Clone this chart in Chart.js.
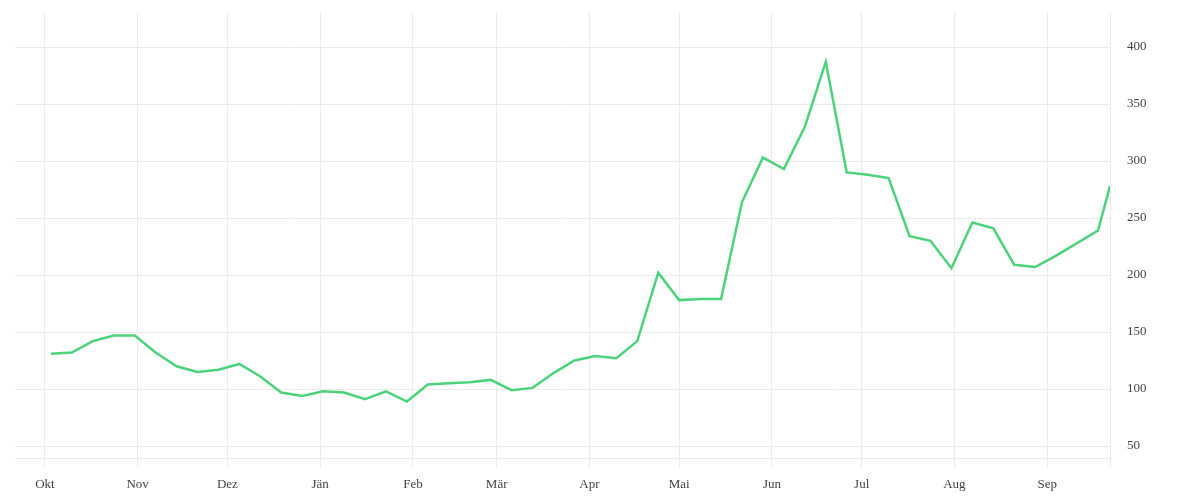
<!DOCTYPE html>
<html>
<head>
<meta charset="utf-8">
<script src="https://cdn.jsdelivr.net/npm/chart.js@4/dist/chart.umd.min.js"></script>
<style>
  html, body { margin: 0; padding: 0; background: #fff; }
  #wrap { width: 1200px; height: 500px; }
</style>
</head>
<body>
<div id="wrap"><canvas id="priceChart"></canvas></div>
<script>
const dates = [
  '2020-10-03', '2020-10-10', '2020-10-17', '2020-10-24', '2020-10-31',
  '2020-11-07', '2020-11-14', '2020-11-21', '2020-11-28',
  '2020-12-05', '2020-12-12', '2020-12-19', '2020-12-26',
  '2021-01-02', '2021-01-09', '2021-01-16', '2021-01-23', '2021-01-30',
  '2021-02-06', '2021-02-13', '2021-02-20', '2021-02-27',
  '2021-03-06', '2021-03-13', '2021-03-20', '2021-03-27',
  '2021-04-03', '2021-04-10', '2021-04-17', '2021-04-24',
  '2021-05-01', '2021-05-08', '2021-05-15', '2021-05-22', '2021-05-29',
  '2021-06-05', '2021-06-12', '2021-06-19', '2021-06-26',
  '2021-07-03', '2021-07-10', '2021-07-17', '2021-07-24', '2021-07-31',
  '2021-08-07', '2021-08-14', '2021-08-21', '2021-08-28',
  '2021-09-04', '2021-09-11', '2021-09-18', '2021-09-22'
];

const values = [
  131, 132, 142, 147, 147,
  132, 120, 115, 117,
  122, 111, 97, 94,
  98, 97, 91, 98, 89,
  104, 105, 106, 108,
  99, 101, 114, 125,
  129, 127, 142, 202,
  178, 179, 179, 264, 303,
  293, 330, 387, 290,
  288, 285, 234, 230, 206,
  246, 241, 209, 207,
  217, 228, 239, 278
];

const monthStarts = ['2020-10-01', '2020-11-01', '2020-12-01', '2021-01-01', '2021-02-01', '2021-03-01',
                     '2021-04-01', '2021-05-01', '2021-06-01', '2021-07-01', '2021-08-01', '2021-09-01'];
const monthLabels = ['Okt', 'Nov', 'Dez', 'Jän', 'Feb', 'Mär', 'Apr', 'Mai', 'Jun', 'Jul', 'Aug', 'Sep'];
const yTicks = [50, 100, 150, 200, 250, 300, 350, 400];

const origin = Date.UTC(2020, 9, 1);
function dayOf(s) {
    const p = s.split('-').map(Number);
    return (Date.UTC(p[0], p[1] - 1, p[2]) - origin) / 86400000;
}

const points = dates.map((d, i) => ({ x: dayOf(d), y: values[i] }));
const monthDays = monthStarts.map(dayOf);
const xMax = dayOf(dates[dates.length - 1]);

const gridColor = '#ebebeb';
const font = { family: '"Liberation Serif", "DejaVu Serif", serif', size: 13 };

function initChart() {
    const ctx = document.getElementById('priceChart').getContext('2d');
    new Chart(ctx, {
        type: 'line',
        data: {
            datasets: [{
                data: points,
                borderColor: '#4cd27a',
                borderWidth: 2.5,
                pointRadius: 0,
                tension: 0,
                fill: false
            }]
        },
        options: {
            responsive: true,
            maintainAspectRatio: false,
            animation: false,
            layout: { padding: { left: 15, top: 12, right: 0, bottom: 0 } },
            plugins: { legend: { display: false }, tooltip: { enabled: false } },
            scales: {
                x: {
                    type: 'linear',
                    min: -10,
                    max: xMax,
                    afterBuildTicks: axis => {
                        axis.ticks = monthDays.map(v => ({ value: v })).concat([{ value: xMax }]);
                    },
                    afterFit: axis => {
                        axis.height = 42;
                        axis.paddingLeft = 0;
                        axis.paddingRight = 0;
                    },
                    grid: { color: gridColor, lineWidth: 1, tickLength: 10, drawTicks: true },
                    border: { color: gridColor, width: 1 },
                    ticks: {
                        color: '#444',
                        font: font,
                        padding: 9,
                        maxRotation: 0,
                        autoSkip: false,
                        callback: v => {
                            const i = monthDays.indexOf(v);
                            return i >= 0 ? monthLabels[i] : '';
                        }
                    }
                },
                y: {
                    position: 'right',
                    min: 39.5,
                    max: 430.7,
                    afterBuildTicks: axis => {
                        axis.ticks = yTicks.map(v => ({ value: v }));
                    },
                    afterFit: axis => {
                        axis.width = 90;
                        axis.paddingTop = 0;
                        axis.paddingBottom = 0;
                    },
                    grid: { color: gridColor, lineWidth: 1, drawTicks: false },
                    border: { color: gridColor, width: 1 },
                    ticks: { color: '#444', font: font, padding: 17 }
                }
            }
        }
    });
}

document.addEventListener('DOMContentLoaded', initChart);
</script>
</body>
</html>
